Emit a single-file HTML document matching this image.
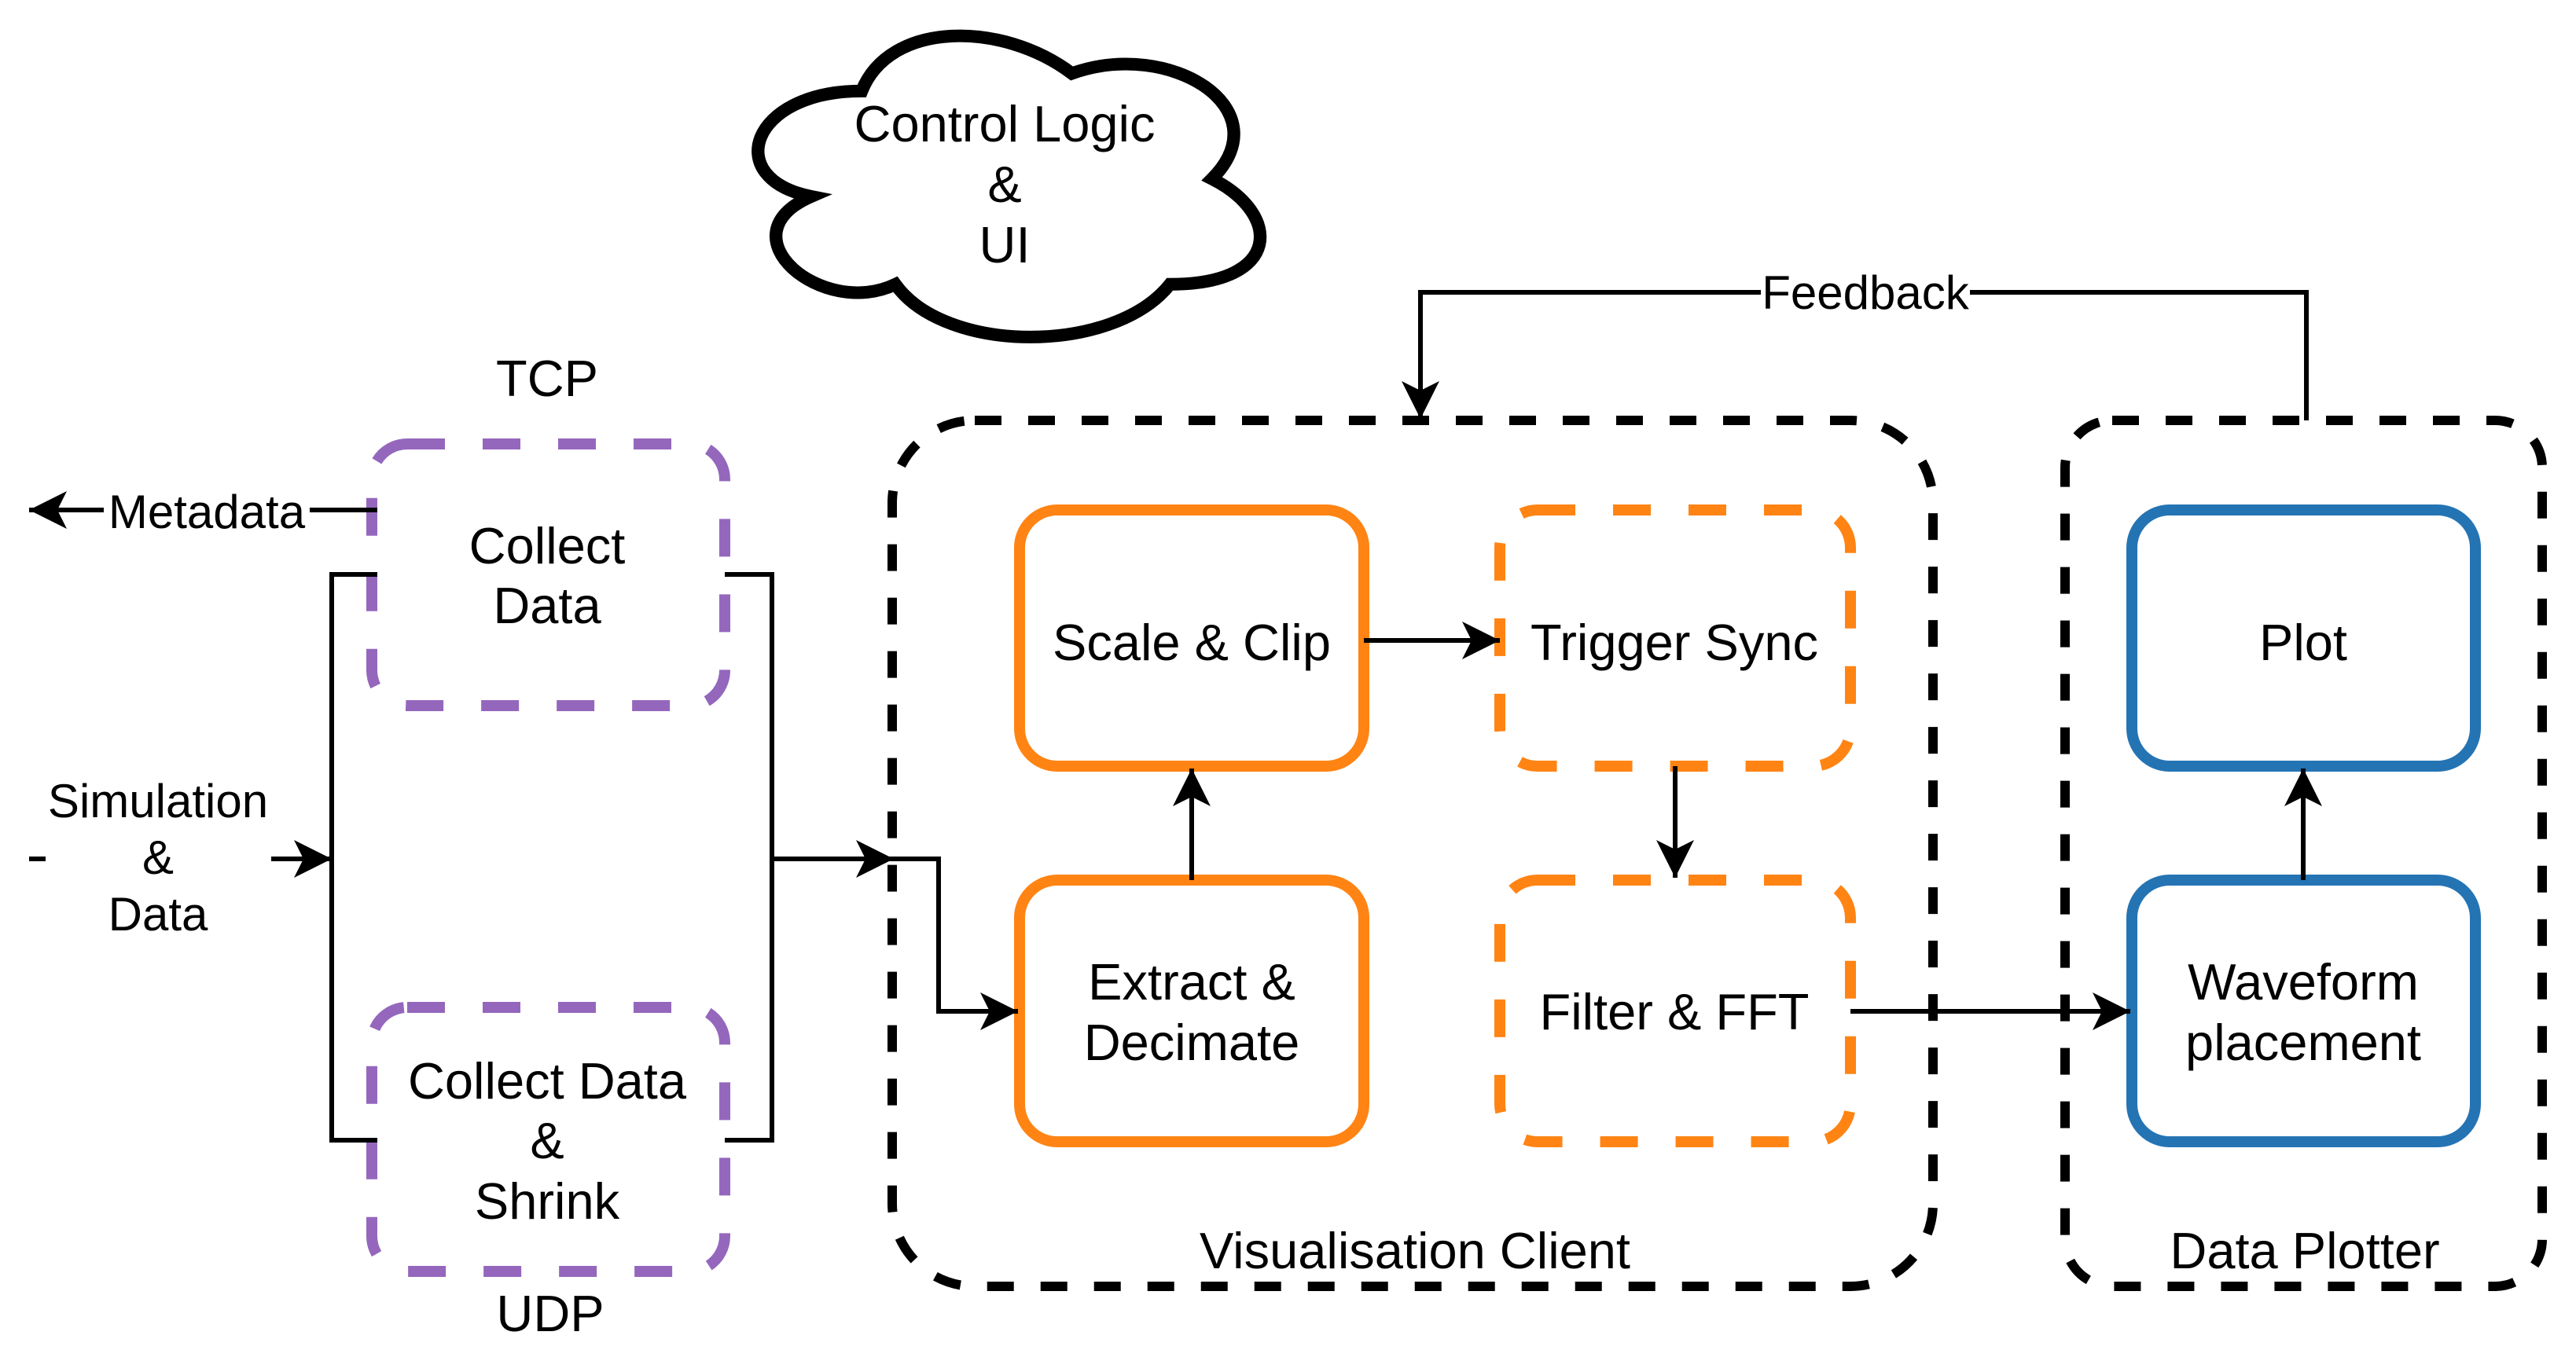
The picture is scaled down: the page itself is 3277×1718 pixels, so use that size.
<!DOCTYPE html>
<html><head><meta charset="utf-8"><style>
html,body{margin:0;padding:0;background:#fff}
svg{display:block}
text{font-family:"Liberation Sans",Arial,sans-serif;font-size:65px;fill:#000}
text.s{font-size:60px}
</style></head><body>
<svg width="3277" height="1718" viewBox="0 0 3277 1718" xmlns="http://www.w3.org/2000/svg">
<defs>
<marker id="a" markerUnits="userSpaceOnUse" markerWidth="60" markerHeight="60" viewBox="0 0 60 60" refX="48" refY="30" orient="auto">
<path d="M0,6 L48,30 L0,54 L12,30 Z" fill="#000"/>
</marker>
</defs>
<!-- cloud -->
<g transform="translate(918,4) scale(1.09,1.07)">
<path d="M163.5,104.5 C32.7,104.5 0,209 104.6,229.9 C0,275.9 117.7,376.2 202.7,334.4 C261.6,418 457.8,418 523.2,334.4 C654,334.4 654,250.8 572.3,209 C654,125.4 523.2,41.8 408.8,83.6 C327,20.9 196.2,20.9 163.5,104.5 Z" fill="#fff" stroke="#000" stroke-width="15"/>
</g>
<text x="1278" y="180" text-anchor="middle">Control Logic</text>
<text x="1278" y="257" text-anchor="middle">&amp;</text>
<text x="1278" y="334" text-anchor="middle">UI</text>

<!-- containers -->
<rect x="1135" y="535" width="1324" height="1102" rx="105" fill="none" stroke="#000" stroke-width="12" stroke-dasharray="34,34"/>
<rect x="2627" y="535" width="607" height="1102" rx="60" fill="none" stroke="#000" stroke-width="12" stroke-dasharray="34,34"/>
<text x="1800" y="1614" text-anchor="middle">Visualisation Client</text>
<text x="2932" y="1614" text-anchor="middle">Data Plotter</text>

<!-- purple -->
<rect x="473" y="565" width="449" height="333" rx="45" fill="none" stroke="#9467BD" stroke-width="14" stroke-dasharray="48,48"/>
<rect x="473" y="1282" width="449" height="336" rx="45" fill="none" stroke="#9467BD" stroke-width="14" stroke-dasharray="48,48"/>
<text x="696" y="504" text-anchor="middle">TCP</text>
<text x="696" y="717" text-anchor="middle">Collect</text>
<text x="696" y="793" text-anchor="middle">Data</text>
<text x="696" y="1398" text-anchor="middle">Collect Data</text>
<text x="696" y="1474" text-anchor="middle">&amp;</text>
<text x="696" y="1551" text-anchor="middle">Shrink</text>
<text x="700" y="1694" text-anchor="middle">UDP</text>

<!-- orange -->
<rect x="1297" y="649" width="438" height="326" rx="48" fill="none" stroke="#FF8414" stroke-width="14"/>
<rect x="1297" y="1120" width="438" height="333" rx="48" fill="none" stroke="#FF8414" stroke-width="14"/>
<rect x="1908" y="649" width="446" height="326" rx="48" fill="none" stroke="#FF8414" stroke-width="14" stroke-dasharray="48,48"/>
<rect x="1908" y="1120" width="446" height="333" rx="48" fill="none" stroke="#FF8414" stroke-width="14" stroke-dasharray="48,48"/>
<text x="1516" y="840" text-anchor="middle">Scale &amp; Clip</text>
<text x="1516" y="1272" text-anchor="middle">Extract &amp;</text>
<text x="1516" y="1349" text-anchor="middle">Decimate</text>
<text x="2130" y="840" text-anchor="middle">Trigger Sync</text>
<text x="2130" y="1310" text-anchor="middle">Filter &amp; FFT</text>

<!-- blue -->
<rect x="2712" y="649" width="437" height="326" rx="48" fill="none" stroke="#2474B4" stroke-width="14"/>
<rect x="2712" y="1120" width="437" height="333" rx="48" fill="none" stroke="#2474B4" stroke-width="14"/>
<text x="2930" y="840" text-anchor="middle">Plot</text>
<text x="2930" y="1272" text-anchor="middle">Waveform</text>
<text x="2930" y="1349" text-anchor="middle">placement</text>

<!-- connectors -->
<g fill="none" stroke="#000" stroke-width="6">
<path d="M480,649 H37" marker-end="url(#a)"/>
<path d="M480,731 H422 V1451 H480"/>
<path d="M922,731 H982 V1451 H922"/>
<path d="M37,1093 H58"/>
<path d="M345,1093 H422" marker-end="url(#a)"/>
<path d="M982,1093 H1137" marker-end="url(#a)"/>
<path d="M1137,1093 H1194 V1287 H1295" marker-end="url(#a)"/>
<path d="M1516,1120 V978" marker-end="url(#a)"/>
<path d="M1735,815 H1908" marker-end="url(#a)"/>
<path d="M2131,975 V1117" marker-end="url(#a)"/>
<path d="M2354,1287 H2710" marker-end="url(#a)"/>
<path d="M2930,1120 V978" marker-end="url(#a)"/>
<path d="M2934,535 V372 H1807 V533" marker-end="url(#a)"/>
</g>
<rect x="132" y="621" width="262" height="60" fill="#fff"/>
<text class="s" x="263" y="672" text-anchor="middle">Metadata</text>
<rect x="2240" y="342" width="266" height="60" fill="#fff"/>
<text class="s" x="2373" y="393" text-anchor="middle">Feedback</text>
<text class="s" x="201" y="1040" text-anchor="middle">Simulation</text>
<text class="s" x="201" y="1112" text-anchor="middle">&amp;</text>
<text class="s" x="201" y="1184" text-anchor="middle">Data</text>
</svg>
</body></html>
